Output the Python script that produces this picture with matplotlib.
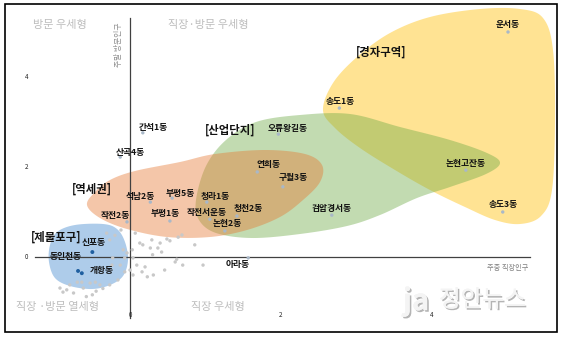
import numpy as np
import matplotlib
matplotlib.use("Agg")
import matplotlib.pyplot as plt
from matplotlib.patches import Polygon, Rectangle
from matplotlib.transforms import Affine2D
import matplotlib.patheffects as pe

plt.rcParams['font.family'] = ['Noto Sans CJK KR', 'DejaVu Sans']

# ---- data: weekday workers (x) vs weekend visitors (y), standardized ----
label_names = ['운서동', '송도1동', '송도3동', '논현고잔동', '오류왕길동', '연희동', '구월3동',
               '검암경서동', '간석1동', '산곡4동', '석남2동', '부평5동', '청라1동', '작전2동',
               '부평1동', '작전서운동', '청천2동', '논현2동', '아라동']
label_x = [5.02, 2.78, 4.95, 4.46, 1.97, 1.69, 2.03, 2.68, 0.17, -0.13, 0.27, 0.56, 1.02,
           -0.04, 0.53, 1.06, 1.42, 1.26, 1.57]
label_y = [5.00, 3.31, 1.00, 1.93, 2.73, 1.89, 1.56, 0.93, 2.76, 2.22, 1.22, 1.31, 1.22,
           0.78, 0.80, 0.84, 0.91, 0.58, -0.02]

jemulpo_names = ['신포동', '동인천동', '개항동']
jemulpo_x = [-0.50, -0.69, -0.64]
jemulpo_y = [0.11, -0.31, -0.36]

other_x = [0.29, 0.49, 0.64, 0.69, 0.17, 0.27, 0.37, 0.42, 0.86, 0.03, -0.04, -0.07, 0.04,
           0.09, 0.20, 0.16, 0.23, 0.31, 0.46, 0.60, 0.70, 0.97, 0.00, 0.04, -0.13, -0.16,
           -0.31, 0.07, 0.13, -0.09, -0.07, -0.27, -0.40, -0.46, -0.53, -0.64, -0.70, -0.84,
           -0.89, -0.93, -0.80, -0.62, -0.50, -0.24, -0.23, -0.27, 0.40, 0.53, 0.62, 0.30,
           -0.20, -0.12, -0.75, -0.58, -0.36, -0.45]
other_y = [0.38, 0.40, 0.44, 0.49, 0.27, 0.20, 0.20, 0.11, 0.27, 0.16, 0.09, -0.02, -0.02,
           -0.18, -0.22, -0.33, -0.44, -0.40, -0.29, -0.11, -0.18, -0.18, -0.29, -0.40, -0.18,
           -0.51, 0.53, 0.53, 0.31, 0.16, -0.33, -0.62, -0.62, -0.56, -0.58, -0.56, -0.56,
           -0.73, -0.78, -0.69, -0.62, -0.69, -0.84, -0.18, -0.02, 0.38, 0.31, 0.36, -0.05,
           0.05, 0.48, 0.60, -0.80, -0.88, -0.70, -0.76]

x_ticks = [0, 2, 4]
y_ticks = [0, 2, 4]

# label offsets (pixels) relative to each marker
label_off = {'운서동': (0, 7), '송도1동': (1, 7), '송도3동': (0, 7), '논현고잔동': (0, 7),
             '오류왕길동': (9, 6), '연희동': (11, 7), '구월3동': (10, 9), '검암경서동': (0, 7),
             '간석1동': (10, 5), '산곡4동': (10, 5), '석남2동': (-10, 6), '부평5동': (8, 5),
             '청라1동': (8, 6), '작전2동': (-12, 6), '부평1동': (-5, 7), '작전서운동': (-3, 7),
             '청천2동': (11, 8), '논현2동': (2, 7), '아라동': (-11, -7)}
jemulpo_off = {'신포동': (1, 10), '동인천동': (-12, 14), '개항동': (20, 3)}

W, H = 563, 338
fig = plt.figure(figsize=(W / 100, H / 100), dpi=100)
ax = fig.add_axes([0, 0, 1, 1])
ax.set_xlim(-130 / 75.3, (W - 130) / 75.3)
ax.set_ylim(-(H - 257) / 45.0, 257 / 45.0)
ax.axis('off')

# cluster outlines, drawn in canvas pixels measured from the top-left corner
canvas = Affine2D().scale(1 / W, -1 / H).translate(0, 1) + fig.transFigure


def smooth_closed(pts, n=24):
    p = np.asarray(pts, float)
    m = len(p)
    out = []
    for i in range(m):
        p0, p1, p2, p3 = p[(i - 1) % m], p[i], p[(i + 1) % m], p[(i + 2) % m]
        t = np.linspace(0, 1, n, endpoint=False)[:, None]
        out.append(0.5 * ((2 * p1) + (-p0 + p2) * t + (2 * p0 - 5 * p1 + 4 * p2 - p3) * t ** 2
                          + (-p0 + 3 * p1 - 3 * p2 + p3) * t ** 3))
    return np.vstack(out)


yellow = [(323, 110), (333, 83), (357, 57), (390, 33), (430, 17), (480, 9), (520, 9),
          (543, 18), (553, 50), (555, 120), (552, 190), (541, 216), (520, 224), (495, 220),
          (465, 207), (430, 190), (395, 170), (360, 148), (335, 128)]
green = [(196, 200), (206, 166), (226, 140), (256, 122), (300, 115), (350, 114), (400, 127),
         (450, 140), (487, 153), (500, 163), (486, 174), (450, 187), (417, 198), (380, 215),
         (347, 226), (300, 234), (252, 238), (216, 233), (199, 220)]
orange = [(87, 205), (95, 192), (110, 180), (135, 171), (180, 162), (215, 154), (265, 150),
          (305, 154), (322, 165), (320, 182), (303, 200), (280, 217), (247, 230), (210, 237),
          (167, 237), (127, 229), (100, 218)]
blue = [(57, 232), (75, 225), (103, 224), (117, 229), (125, 242), (128, 260), (123, 276),
        (110, 285), (92, 289), (70, 286), (55, 278), (49, 262), (50, 245)]

for shape, col, a in [(yellow, '#ffc828', 0.5), (green, '#6eaa46', 0.42),
                      (orange, '#e67832', 0.42), (blue, '#78aadc', 0.6)]:
    ax.add_patch(Polygon(smooth_closed(shape), closed=True, facecolor=col, alpha=a,
                         edgecolor='none', transform=canvas, zorder=1))

# axes through the origin
ax.plot([0, 0], [5.31, -1.36], color='#404040', lw=0.9, zorder=2)
ax.plot([-1.26, 5.31], [0, 0], color='#404040', lw=0.9, zorder=2)

for v in y_ticks:
    ax.text(-1.37, v, str(v), fontsize=4.5, ha='center', va='center', color='#222222')
for v in x_ticks:
    ax.text(v, -1.29, str(v), fontsize=4.5, ha='center', va='center', color='#222222')

ax.text(5.01, -0.24, '주중 직장인구', fontsize=5.2, ha='center', va='center', color='#808080')
ax.text(-0.15, 4.71, '주말 방문인구', fontsize=5.6, ha='center', va='center', color='#909090',
        rotation=90)

# quadrant names
qcol = '#bdbdbd'
ax.text(-0.93, 5.16, '방문 우세형', fontsize=8, ha='center', va='center', color=qcol)
ax.text(1.04, 5.16, '직장·방문 우세형', fontsize=8, ha='center', va='center', color=qcol)
ax.text(-0.96, -1.11, '직장 ·방문 열세형', fontsize=8, ha='center', va='center', color=qcol)
ax.text(1.17, -1.11, '직장 우세형', fontsize=8, ha='center', va='center', color=qcol)

# points
ax.scatter(other_x, other_y, s=6, color='#c8c8c8', edgecolors='none', zorder=3)
ax.scatter(label_x, label_y, s=6, color='#a9b8c8', edgecolors='none', zorder=3)
ax.scatter(jemulpo_x, jemulpo_y, s=8, color='#1f5fa0', edgecolors='none', zorder=3)

for n, x, y in zip(label_names, label_x, label_y):
    ax.annotate(n, (x, y), xytext=label_off[n], textcoords='offset pixels', fontsize=6.3,
                fontweight='bold', ha='center', va='center', color='#111111', zorder=4)
for n, x, y in zip(jemulpo_names, jemulpo_x, jemulpo_y):
    ax.annotate(n, (x, y), xytext=jemulpo_off[n], textcoords='offset pixels', fontsize=6.3,
                fontweight='bold', ha='center', va='center', color='#111111', zorder=4)

# cluster names
for txt, x, y in [('[경자구역]', 3.33, 4.56), ('[산업단지]', 1.33, 2.82),
                  ('[역세권]', -0.50, 1.51), ('[제물포구]', -0.98, 0.44)]:
    ax.text(x, y, txt, fontsize=8.2, fontweight='bold', ha='center', va='center',
            color='#111111', zorder=4)

# watermark
shadow = [pe.withSimplePatchShadow(offset=(1.2, -1.2), shadow_rgbFace='#777777', alpha=0.55),
          pe.Normal()]
ax.text(3.80, -0.98, 'ja', fontsize=21, fontweight='bold', ha='center', va='center',
        color='#f4f4f4', zorder=5, path_effects=shadow)
ax.text(4.68, -0.96, '정안뉴스', fontsize=17, ha='center', va='center',
        color='#f4f4f4', zorder=5, path_effects=shadow)

# outer frame
fig.patches.append(Rectangle((5 / W, 1 - 332 / H), 552 / W, 328 / H, fill=False,
                             edgecolor='black', lw=1.2, transform=fig.transFigure))

fig.savefig('out.png', dpi=100)
